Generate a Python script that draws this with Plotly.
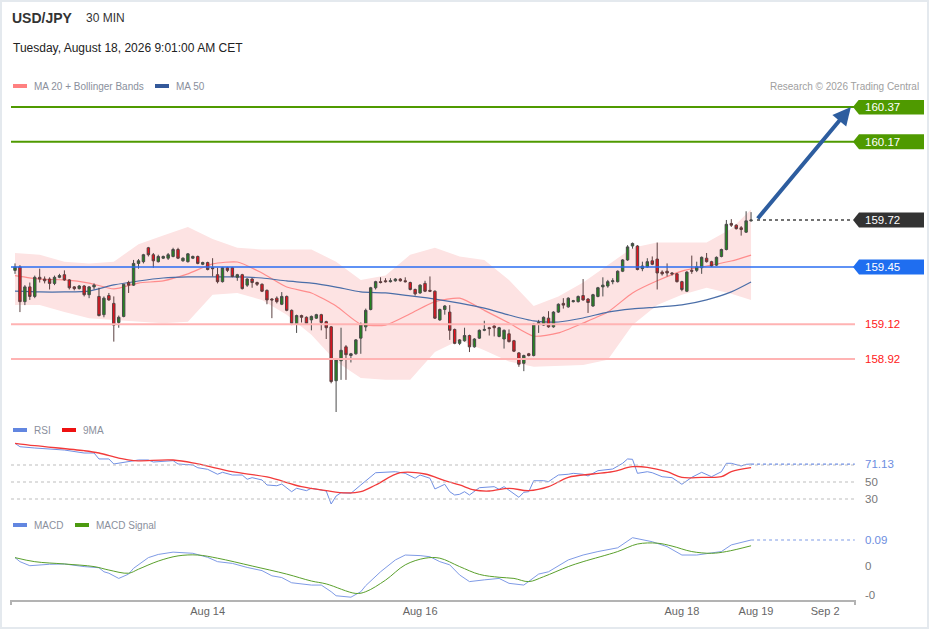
import plotly.graph_objects as go

W, H = 929, 629
FONT = "Liberation Sans, Arial, sans-serif"

# USD/JPY 30 min candles
opens = [159.43, 159.45, 159.25, 159.335, 159.28, 159.39, 159.38, 159.38, 159.355, 159.39,
         159.405, 159.375, 159.335, 159.325, 159.34, 159.29, 159.335, 159.28, 159.175, 159.285,
         159.24, 159.13, 159.165, 159.36, 159.345, 159.47, 159.48, 159.56, 159.52, 159.48,
         159.50, 159.50, 159.51, 159.55, 159.485, 159.48, 159.50, 159.51, 159.465, 159.475,
         159.445, 159.405, 159.365, 159.445, 159.445, 159.39, 159.405, 159.345, 159.38, 159.36,
         159.35, 159.315, 159.265, 159.27, 159.235, 159.28, 159.20, 159.12, 159.17, 159.16,
         159.145, 159.155, 159.175, 159.135, 159.105, 158.795, 158.91, 158.99, 158.94, 158.95,
         159.04, 159.105, 159.205, 159.33, 159.365, 159.37, 159.365, 159.37, 159.38, 159.37,
         159.36, 159.32, 159.30, 159.355, 159.315, 159.31, 159.145, 159.205, 159.19, 159.09,
         159.01, 159.025, 159.055, 158.99, 159.04, 159.085, 159.10, 159.11, 159.05, 159.035,
         159.065, 159.025, 158.955, 158.895, 158.95, 158.94, 159.12, 159.115, 159.155, 159.105,
         159.19, 159.24, 159.22, 159.25, 159.25, 159.285, 159.265, 159.225, 159.28, 159.335,
         159.34, 159.365, 159.365, 159.425, 159.49, 159.57, 159.57, 159.44, 159.45, 159.485,
         159.495, 159.42, 159.425, 159.415, 159.41, 159.365, 159.31, 159.43, 159.43, 159.445,
         159.50, 159.48, 159.46, 159.51, 159.55, 159.70, 159.69, 159.675, 159.65, 159.715]
highs = [159.47, 159.46, 159.345, 159.36, 159.40, 159.44, 159.395, 159.39, 159.40, 159.41,
         159.43, 159.38, 159.34, 159.345, 159.345, 159.34, 159.355, 159.33, 159.28, 159.30,
         159.28, 159.17, 159.35, 159.37, 159.49, 159.495, 159.525, 159.565, 159.53, 159.52,
         159.515, 159.53, 159.56, 159.56, 159.505, 159.53, 159.515, 159.515, 159.48, 159.48,
         159.50, 159.445, 159.45, 159.45, 159.45, 159.41, 159.41, 159.385, 159.385, 159.365,
         159.355, 159.32, 159.27, 159.28, 159.305, 159.285, 159.205, 159.175, 159.175, 159.165,
         159.17, 159.18, 159.18, 159.14, 159.11, 158.92, 159.10, 159.00, 158.955, 159.035,
         159.13, 159.21, 159.335, 159.37, 159.39, 159.385, 159.385, 159.385, 159.385, 159.39,
         159.365, 159.325, 159.35, 159.37, 159.395, 159.315, 159.21, 159.23, 159.23, 159.095,
         159.035, 159.10, 159.06, 159.04, 159.09, 159.14, 159.105, 159.125, 159.105, 159.09,
         159.09, 159.03, 158.96, 158.945, 158.955, 159.125, 159.145, 159.165, 159.195, 159.195,
         159.24, 159.27, 159.275, 159.26, 159.285, 159.38, 159.27, 159.295, 159.335, 159.39,
         159.375, 159.385, 159.43, 159.495, 159.575, 159.59, 159.575, 159.48, 159.50, 159.51,
         159.59, 159.43, 159.47, 159.42, 159.415, 159.37, 159.425, 159.515, 159.48, 159.51,
         159.53, 159.485, 159.51, 159.555, 159.72, 159.725, 159.695, 159.685, 159.77, 159.765]
lows = [159.41, 159.19, 159.23, 159.26, 159.27, 159.36, 159.355, 159.32, 159.345, 159.385,
        159.37, 159.32, 159.315, 159.32, 159.28, 159.27, 159.32, 159.165, 159.16, 159.255,
        159.02, 159.10, 159.16, 159.30, 159.34, 159.44, 159.47, 159.51, 159.445, 159.475,
        159.495, 159.49, 159.505, 159.495, 159.48, 159.475, 159.495, 159.465, 159.46, 159.43,
        159.395, 159.355, 159.36, 159.42, 159.39, 159.37, 159.32, 159.335, 159.33, 159.34,
        159.305, 159.235, 159.155, 159.24, 159.23, 159.195, 159.115, 159.07, 159.13, 159.12,
        159.085, 159.15, 159.085, 159.035, 158.78, 158.615, 158.80, 158.80, 158.90, 158.945,
        158.95, 159.08, 159.20, 159.32, 159.355, 159.36, 159.36, 159.365, 159.365, 159.36,
        159.315, 159.285, 159.295, 159.305, 159.305, 159.15, 159.14, 159.175, 159.03, 159.005,
        159.00, 159.02, 158.96, 158.985, 159.035, 159.08, 159.055, 159.05, 159.045, 158.98,
        159.015, 158.96, 158.875, 158.85, 158.935, 158.935, 159.07, 159.11, 159.10, 159.10,
        159.185, 159.21, 159.215, 159.245, 159.245, 159.255, 159.185, 159.22, 159.275, 159.28,
        159.33, 159.35, 159.36, 159.42, 159.485, 159.555, 159.43, 159.425, 159.445, 159.46,
        159.32, 159.40, 159.395, 159.40, 159.36, 159.31, 159.305, 159.41, 159.42, 159.41,
        159.475, 159.45, 159.455, 159.505, 159.545, 159.68, 159.665, 159.63, 159.645, 159.71]
closes = [159.45, 159.25, 159.335, 159.28, 159.39, 159.38, 159.37, 159.355, 159.39, 159.40,
          159.375, 159.33, 159.325, 159.34, 159.29, 159.335, 159.345, 159.17, 159.27, 159.26,
          159.115, 159.16, 159.35, 159.345, 159.47, 159.485, 159.52, 159.52, 159.485, 159.51,
          159.51, 159.52, 159.55, 159.50, 159.50, 159.525, 159.51, 159.47, 159.475, 159.435,
          159.44, 159.365, 159.445, 159.43, 159.395, 159.405, 159.325, 159.38, 159.36, 159.35,
          159.31, 159.26, 159.26, 159.25, 159.28, 159.20, 159.125, 159.17, 159.16, 159.125,
          159.165, 159.175, 159.13, 159.10, 158.79, 158.915, 158.97, 158.945, 158.95, 159.03,
          159.12, 159.20, 159.33, 159.365, 159.36, 159.365, 159.37, 159.38, 159.37, 159.365,
          159.32, 159.295, 159.345, 159.31, 159.31, 159.155, 159.205, 159.225, 159.085, 159.01,
          159.03, 159.055, 158.99, 159.035, 159.085, 159.09, 159.095, 159.10, 159.10, 159.085,
          159.02, 158.965, 158.89, 158.94, 158.94, 159.12, 159.13, 159.16, 159.105, 159.19,
          159.235, 159.23, 159.27, 159.255, 159.28, 159.26, 159.245, 159.29, 159.33, 159.345,
          159.365, 159.37, 159.425, 159.49, 159.565, 159.585, 159.435, 159.455, 159.48, 159.465,
          159.415, 159.41, 159.415, 159.41, 159.365, 159.32, 159.42, 159.425, 159.45, 159.505,
          159.48, 159.455, 159.505, 159.55, 159.695, 159.69, 159.67, 159.665, 159.715, 159.72]
bars = list(range(len(closes)))

# bands / moving averages sampled along the candles
band_x = [0, 5, 10, 15, 20, 25, 30, 35, 40, 45, 50, 55, 60, 65, 70, 75, 80, 85, 90, 95,
          100, 105, 110, 115, 120, 125, 130, 135, 140, 145, 149]
bb_upper = [159.53, 159.52, 159.48, 159.47, 159.48, 159.58, 159.63, 159.68, 159.61, 159.56,
            159.55, 159.55, 159.55, 159.48, 159.375, 159.40, 159.52, 159.56, 159.51, 159.49,
            159.375, 159.225, 159.28, 159.36, 159.46, 159.56, 159.59, 159.59, 159.59, 159.67, 159.78]
bb_lower = [159.23, 159.23, 159.19, 159.155, 159.145, 159.135, 159.125, 159.135, 159.29, 159.30,
            159.26, 159.175, 159.06, 158.905, 158.81, 158.80, 158.80, 158.96, 159.03, 158.97,
            158.905, 158.875, 158.88, 158.885, 158.915, 159.115, 159.23, 159.29, 159.33, 159.295, 159.26]
ma20 = [159.40, 159.38, 159.375, 159.357, 159.323, 159.357, 159.37, 159.41, 159.467, 159.478,
        159.415, 159.334, 159.30, 159.225, 159.12, 159.115, 159.18, 159.25, 159.27, 159.20,
        159.127, 159.052, 159.07, 159.127, 159.19, 159.30, 159.37, 159.426, 159.455, 159.484, 159.518]
ma50 = [159.311, 159.306, 159.306, 159.311, 159.346, 159.369, 159.386, 159.392, 159.392, 159.392,
        159.386, 159.369, 159.357, 159.334, 159.306, 159.30, 159.283, 159.265, 159.242, 159.213,
        159.173, 159.139, 159.133, 159.156, 159.19, 159.208, 159.219, 159.231, 159.26, 159.306, 159.363]

# RSI and its 9 MA
rsi_x = [0, 1, 4, 10, 14, 16, 17, 19, 20, 23, 25, 27, 28, 32, 33, 36, 37, 39, 41, 42,
         44, 46, 47, 48, 50, 51, 53, 54, 56, 57, 59, 60, 63, 64, 65, 66, 68, 70, 73, 77,
         79, 81, 82, 84, 85, 87, 88, 89, 90, 91, 92, 94, 97, 98, 99, 102, 103, 104, 105, 107,
         108, 109, 110, 112, 113, 115, 116, 118, 121, 123, 124, 125, 126, 128, 129, 131, 133, 135, 137, 139,
         141, 143, 144, 145, 147, 148, 149]
rsi = [95.5, 91.5, 90.0, 87.6, 84.1, 84.1, 77.1, 77.1, 71.2, 73.5, 75.9, 75.9, 73.5, 75.1, 71.2, 70.0, 66.8, 64.9, 59.1, 61.4,
       58.2, 58.2, 53.2, 55.1, 52.4, 46.5, 45.6, 47.6, 38.6, 42.6, 39.8, 42.6, 39.4, 24.1, 33.5, 37.4, 36.7, 46.5, 60.9, 62.1,
       60.2, 54.4, 58.2, 54.4, 41.8, 47.3, 38.6, 34.7, 35.5, 38.6, 34.7, 43.3, 44.5, 41.4, 44.5, 32.0, 37.9, 38.6, 51.5, 51.5,
       50.4, 54.4, 58.2, 59.1, 60.2, 59.1, 57.1, 63.3, 65.3, 72.0, 77.1, 76.7, 60.2, 62.1, 60.9, 56.2, 55.1, 47.3, 55.5, 61.4,
       56.2, 62.1, 72.0, 72.0, 68.8, 70.8, 71.13]
rsi9_x = [0, 4, 14, 17, 21, 24, 32, 37, 44, 51, 58, 63, 67, 70, 73, 78, 83, 87, 90, 93,
          96, 100, 104, 108, 112, 117, 121, 125, 128, 132, 135, 139, 143, 145, 149]
rsi9 = [95.5, 92.7, 86.8, 84.1, 78.2, 75.1, 75.9, 71.2, 62.1, 55.9, 44.5, 39.8, 37.1, 38.6, 46.5, 60.9, 59.4, 51.5, 46.5, 40.6,
        39.4, 42.6, 39.8, 44.5, 55.5, 59.4, 62.1, 68.0, 67.3, 62.1, 55.5, 55.5, 56.2, 62.1, 66.8]

# MACD and signal
macd_x = [0, 1, 3, 7, 10, 14, 17, 18, 19, 21, 23, 24, 27, 29, 32, 35, 36, 39, 41, 44,
          47, 50, 52, 54, 56, 60, 62, 64, 65, 68, 70, 71, 74, 77, 79, 82, 84, 86, 88, 90,
          92, 95, 98, 100, 103, 106, 108, 112, 115, 118, 122, 125, 129, 132, 135, 138, 141, 143, 145, 149]
macd = [0.029, 0.015, 0.001, 0.006, 0.007, -0.002, -0.006, -0.020, -0.025, -0.043,
        -0.028, -0.008, 0.029, 0.040, 0.048, 0.046, 0.044, 0.030, 0.015, 0.009,
        -0.005, -0.016, -0.034, -0.040, -0.058, -0.066, -0.066, -0.089, -0.103, -0.108,
        -0.089, -0.068, -0.020, 0.021, 0.038, 0.036, 0.032, 0.015, 0.004, -0.031,
        -0.054, -0.048, -0.043, -0.060, -0.066, -0.028, -0.020, 0.021, 0.038, 0.050,
        0.063, 0.098, 0.084, 0.067, 0.038, 0.038, 0.044, 0.050, 0.073, 0.090]
sig_x = [0, 4, 10, 16, 19, 23, 25, 29, 33, 37, 41, 48, 55, 60, 63, 69, 71, 75, 79, 83,
         86, 90, 94, 98, 101, 104, 107, 112, 115, 122, 126, 130, 133, 137, 141, 144, 149]
macd_sig = [0.029, 0.015, 0.007, -0.002, -0.014, -0.025, -0.011, 0.017, 0.035, 0.038,
            0.027, 0.0, -0.028, -0.052, -0.062, -0.095, -0.089, -0.049, 0.004, 0.027,
            0.027, -0.002, -0.029, -0.039, -0.043, -0.054, -0.037, -0.002, 0.015, 0.050,
            0.076, 0.079, 0.069, 0.050, 0.044, 0.050, 0.070]

resistances = [160.37, 160.17]
pivot = 159.45
supports = [159.12, 158.92]
last_price = closes[-1]

tick_vals = [39, 82, 135, 150, 164]
tick_text = ["Aug 14", "Aug 16", "Aug 18", "Aug 19", "Sep 2"]


def px(x):
    return x / W


def py(y):
    return 1 - y / H


PPX = 1.45 / 252  # price per pixel in the main panel
X_RANGE = [-0.81, 170.04]
Y_RANGE = [160.37 - 313 * PPX, 160.37 + 7 * PPX]

fig = go.Figure()

fig.add_trace(go.Scatter(x=band_x, y=bb_upper, mode="lines", line=dict(width=0), hoverinfo="skip"))
fig.add_trace(go.Scatter(x=band_x, y=bb_lower, mode="lines", line=dict(width=0), fill="tonexty",
                         fillcolor="#fde3e3", hoverinfo="skip"))
fig.add_trace(go.Scatter(x=band_x, y=ma20, mode="lines", line=dict(color="#ff8c8c", width=1.2, shape="spline", smoothing=0.6)))
fig.add_trace(go.Scatter(x=band_x, y=ma50, mode="lines", line=dict(color="#4a6ea8", width=1.2, shape="spline", smoothing=0.6)))

# candles on an overlay subplot so they sit above the band fill
fig.add_trace(go.Candlestick(
    x=bars, open=opens, high=highs, low=lows, close=closes, xaxis="x2", yaxis="y4",
    increasing=dict(fillcolor="#23851f", line=dict(color="#4a4a4a", width=1)),
    decreasing=dict(fillcolor="#e8101c", line=dict(color="#5a4040", width=1)),
    whiskerwidth=0, hoverinfo="skip"))

fig.add_trace(go.Scatter(x=rsi_x, y=rsi, yaxis="y2", mode="lines", line=dict(color="#7190e4", width=1)))
fig.add_trace(go.Scatter(x=rsi9_x, y=rsi9, yaxis="y2", mode="lines",
                         line=dict(color="#f23a3a", width=1.3, shape="spline")))
fig.add_trace(go.Scatter(x=macd_x, y=macd, yaxis="y3", mode="lines", line=dict(color="#7f9be6", width=1)))
fig.add_trace(go.Scatter(x=sig_x, y=macd_sig, yaxis="y3", mode="lines",
                         line=dict(color="#5aa02c", width=1, shape="spline")))

shapes = []
ann = []

# frame
shapes.append(dict(type="rect", xref="paper", yref="paper", x0=0, x1=1, y0=0, y1=1,
                   line=dict(color="#e4e9ee", width=4)))

# price levels
for lv in resistances:
    shapes.append(dict(type="line", xref="paper", yref="y", x0=px(11), x1=px(857), y0=lv, y1=lv,
                       line=dict(color="#4f9a00", width=2)))
for lv in supports:
    shapes.append(dict(type="line", xref="paper", yref="y", x0=px(11), x1=px(855), y0=lv, y1=lv,
                       line=dict(color="#ffb3b3", width=2)))
    ann.append(dict(xref="paper", yref="y", x=px(863), y=lv, text=f"{lv:.2f}", showarrow=False,
                    xanchor="left", font=dict(size=11.5, color="#ff2020")))
shapes.append(dict(type="line", xref="paper", yref="y", x0=px(11), x1=px(855), y0=pivot, y1=pivot,
                   line=dict(color="#2a6ef2", width=1.5)))
shapes.append(dict(type="line", xref="x", yref="y", x0=bars[-1] + 1.2, x1=169.6, y0=last_price, y1=last_price,
                   line=dict(color="#444444", width=1.5, dash="dot")))


def tag(level, color):
    h = 7.5 * PPX
    path = (f"M {px(853)},{level} L {px(859)},{level + h} L {px(924)},{level + h} "
            f"L {px(924)},{level - h} L {px(859)},{level - h} Z")
    shapes.append(dict(type="path", xref="paper", yref="y", path=path, fillcolor=color, line=dict(width=0)))
    ann.append(dict(xref="paper", yref="y", x=px(863), y=level, text=f"{level:.2f}", showarrow=False,
                    xanchor="left", font=dict(size=11.5, color="white")))


for lv in resistances:
    tag(lv, "#4f9a00")
tag(last_price, "#333333")
tag(pivot, "#1f6ef0")

# target arrow
ann.append(dict(x=169.2, y=resistances[0], ax=bars[-1] + 1.1, ay=last_price, xref="x", yref="y",
                axref="x", ayref="y", text="", showarrow=True, arrowhead=2, arrowsize=0.9,
                arrowwidth=4, arrowcolor="#2d5d9f"))

# RSI guides
for lv in [70, 50, 30]:
    shapes.append(dict(type="line", xref="paper", yref="y2", x0=px(11), x1=px(855), y0=lv, y1=lv,
                       line=dict(color="#bdbdbd", width=1, dash="dot")))
shapes.append(dict(type="line", xref="x", yref="y2", x0=rsi_x[-1], x1=170, y0=rsi[-1], y1=rsi[-1],
                   line=dict(color="#7190e4", width=1.2, dash="dot")))
ann.append(dict(xref="paper", yref="y2", x=px(863), y=rsi[-1], text=f"{rsi[-1]:.2f}", showarrow=False,
                xanchor="left", font=dict(size=11.5, color="#6d8de0")))
for lv in [50, 30]:
    ann.append(dict(xref="paper", yref="y2", x=px(863), y=lv, text=str(lv), showarrow=False,
                    xanchor="left", font=dict(size=11.5, color="#777777")))

# MACD guides
shapes.append(dict(type="line", xref="x", yref="y3", x0=macd_x[-1], x1=170, y0=macd[-1], y1=macd[-1],
                   line=dict(color="#7f9be6", width=1.2, dash="dot")))
ann.append(dict(xref="paper", yref="y3", x=px(863), y=macd[-1], text=f"{macd[-1]:.2f}", showarrow=False,
                xanchor="left", font=dict(size=11.5, color="#6d8de0")))
for lv, txt in [(0, "0"), (-0.1, "-0")]:
    ann.append(dict(xref="paper", yref="y3", x=px(863), y=lv, text=txt, showarrow=False,
                    xanchor="left", font=dict(size=11.5, color="#777777")))

# axis end ticks
for xx in [11, 855]:
    shapes.append(dict(type="line", xref="paper", yref="paper", x0=px(xx), x1=px(xx), y0=py(600), y1=py(605),
                       line=dict(color="#b3b3b3", width=2)))


def legend_item(x, y, color, label, w=14):
    shapes.append(dict(type="rect", xref="paper", yref="paper", x0=px(x), x1=px(x + w),
                       y0=py(y + 2), y1=py(y - 2), fillcolor=color, line=dict(width=0)))
    ann.append(dict(xref="paper", yref="paper", x=px(x + w + 5), y=py(y), text=label, showarrow=False,
                    xanchor="left", yanchor="middle", font=dict(size=10, color="#8a8f9c")))


legend_item(13, 86, "#ff8080", "MA 20 + Bollinger Bands")
legend_item(155, 86, "#34599a", "MA 50")
legend_item(13, 430, "#6286e0", "RSI")
legend_item(62, 430, "#ee1111", "9MA")
legend_item(13, 525, "#6286e0", "MACD")
legend_item(75, 525, "#4c9a10", "MACD Signal")

# header
ann.append(dict(xref="paper", yref="paper", x=px(10), y=py(18), text="<b>USD/JPY</b>", showarrow=False,
                xanchor="left", yanchor="middle", font=dict(size=14, color="#333333")))
ann.append(dict(xref="paper", yref="paper", x=px(84), y=py(18), text="30 MIN", showarrow=False,
                xanchor="left", yanchor="middle", font=dict(size=12, color="#333333")))
ann.append(dict(xref="paper", yref="paper", x=px(11), y=py(48), text="Tuesday, August 18, 2026 9:01:00 AM CET",
                showarrow=False, xanchor="left", yanchor="middle", font=dict(size=12, color="#222222")))
ann.append(dict(xref="paper", yref="paper", x=px(921), y=py(86), text="Research © 2026 Trading Central",
                showarrow=False, xanchor="right", yanchor="middle", font=dict(size=10, color="#a0a0a0")))

fig.update_layout(
    width=W, height=H,
    margin=dict(l=0, r=0, t=0, b=0),
    paper_bgcolor="white", plot_bgcolor="rgba(0,0,0,0)",
    font=dict(family=FONT),
    showlegend=False, hovermode=False,
    xaxis=dict(domain=[px(11), px(855)], range=X_RANGE, anchor="y3",
               tickvals=tick_vals, ticktext=tick_text, tickfont=dict(size=11, color="#666666"),
               showline=True, linecolor="#b3b3b3", linewidth=2, ticks="", showgrid=False,
               zeroline=False, rangeslider=dict(visible=False), fixedrange=True),
    xaxis2=dict(domain=[px(11), px(855)], range=X_RANGE, overlaying="x", anchor="y4", visible=False,
                rangeslider=dict(visible=False), fixedrange=True),
    yaxis=dict(domain=[py(420), py(100)], range=Y_RANGE, visible=False, fixedrange=True),
    yaxis4=dict(domain=[py(420), py(100)], range=Y_RANGE, overlaying="y", anchor="x2",
                visible=False, fixedrange=True),
    yaxis2=dict(domain=[py(508), py(438)], range=[19.41, 101.76], visible=False, fixedrange=True),
    yaxis3=dict(domain=[py(600), py(518)], range=[-34 * 0.09 / 26, 48 * 0.09 / 26],
                visible=False, fixedrange=True),
    shapes=shapes,
    annotations=ann,
)

fig.write_html("out.html", config={"displayModeBar": False},
               post_script="document.body.style.margin='0';document.body.style.overflow='hidden';")
